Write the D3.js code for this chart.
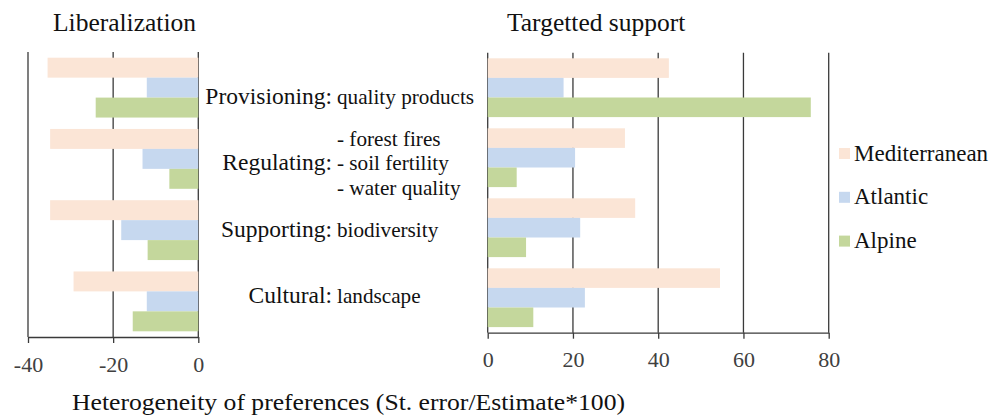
<!DOCTYPE html>
<html>
<head>
<meta charset="utf-8">
<script src="https://cdn.jsdelivr.net/npm/d3@7/dist/d3.min.js"></script>
<style>
  html, body { margin: 0; padding: 0; background: #fff; }
  svg { display: block; }
  svg text { font-family: "Liberation Serif", "Times New Roman", Times, serif; }
</style>
</head>
<body>
<svg id="chart" width="994" height="420"></svg>
<script>
// Ecosystem service categories and their detail lines
const categories = ["Provisioning", "Regulating", "Supporting", "Cultural"];
const categoryItems = [
  ["quality products"],
  ["- forest fires", "- soil fertility", "- water quality"],
  ["biodiversity"],
  ["landscape"]
];

// Regions (series)
const regions = ["Mediterranean", "Atlantic", "Alpine"];
const regionColors = ["#fbe5d6", "#c6d8ef", "#c4d79c"];

// Liberalization scenario values
const mediterraneanLib = [-35.4, -34.8, -34.8, -29.3];
const atlanticLib      = [-12.1, -13.1, -18.1, -12.1];
const alpineLib        = [-24.1, -6.8, -11.9, -15.4];

// Targetted support scenario values
const mediterraneanTarget = [42.5, 32.2, 34.6, 54.5];
const atlanticTarget      = [17.8, 20.5, 21.7, 22.8];
const alpineTarget        = [75.8, 6.8, 9.0, 10.7];

// Tick values
const libTicks = [-40, -20, 0];
const targetTicks = [0, 20, 40, 60, 80];

const svg = d3.select("#chart");
const gridColor = "#3a3a3a";

function drawPanel(opts) {
  const { series, domain, xRange, yRange, ticks, title, titleX } = opts;
  const g = svg.append("g");
  const x = d3.scaleLinear().domain(domain).range(xRange);
  const y0 = d3.scaleBand().domain(categories).range(yRange)
    .paddingInner(0.16).paddingOuter(0.08);
  const y1 = d3.scaleBand().domain(regions).range([0, y0.bandwidth()]);

  // vertical gridlines
  g.selectAll("line.grid").data(ticks).join("line")
    .attr("class", "grid")
    .attr("x1", d => x(d)).attr("x2", d => x(d))
    .attr("y1", yRange[0]).attr("y2", yRange[1])
    .attr("stroke", gridColor).attr("stroke-width", 1.3);

  // bars
  const rows = categories.map((c, i) => ({
    cat: c,
    vals: regions.map((r, j) => ({ region: r, value: series[j][i], color: regionColors[j] }))
  }));
  const grp = g.selectAll("g.cat").data(rows).join("g")
    .attr("transform", d => `translate(0,${y0(d.cat)})`);
  grp.selectAll("rect").data(d => d.vals).join("rect")
    .attr("x", d => x(Math.min(0, d.value)))
    .attr("width", d => Math.abs(x(d.value) - x(0)))
    .attr("y", d => y1(d.region))
    .attr("height", y1.bandwidth())
    .attr("fill", d => d.color);

  // bottom axis
  const axis = d3.axisBottom(x).tickValues(ticks).tickSize(6).tickSizeOuter(0)
    .tickFormat(d3.format("d"));
  const ag = g.append("g").attr("transform", `translate(0,${yRange[1]})`).call(axis);
  ag.attr("font-family", null).attr("font-size", null);
  ag.select(".domain").attr("stroke", gridColor).attr("stroke-width", 1.3);
  ag.selectAll(".tick line").attr("stroke", gridColor).attr("stroke-width", 1.3);
  ag.selectAll(".tick text")
    .attr("y", 34.5)
    .attr("dy", 0)
    .attr("font-size", 22)
    .attr("fill", "#404040")
    .text(d => d < 0 ? "-" + Math.abs(d) : d);

  // panel title
  svg.append("text").attr("x", titleX).attr("y", 31)
    .attr("font-size", 25.5).attr("fill", "#111").text(title);
}

drawPanel({
  series: [mediterraneanLib, atlanticLib, alpineLib],
  domain: [-40, 0], xRange: [28, 198.3], yRange: [52, 337],
  ticks: libTicks, title: "Liberalization", titleX: 53
});

drawPanel({
  series: [mediterraneanTarget, atlanticTarget, alpineTarget],
  domain: [0, 80], xRange: [487.7, 828.7], yRange: [52.7, 332.7],
  ticks: targetTicks, title: "Targetted support", titleX: 507
});

// category labels between the panels
const labelY = d3.scaleLinear().domain([0, categories.length - 1]).range([104, 303.3]);
const lineGap = 24.5;
const labels = svg.append("g").attr("fill", "#111");
categories.forEach((c, i) => {
  const base = labelY(i);
  labels.append("text").attr("x", 332).attr("y", base)
    .attr("font-size", 23.5)
    .attr("text-anchor", "end").text(c + ":");
  const items = categoryItems[i];
  const mid = (items.length - 1) / 2;
  items.forEach((t, k) => {
    labels.append("text").attr("x", 337).attr("y", base + (k - mid) * lineGap)
      .attr("font-size", 21.2)
      .text(t);
  });
});

// legend
const legend = svg.append("g");
regions.forEach((r, i) => {
  const cy = 153.5 + i * 43.8;
  legend.append("rect").attr("x", 839).attr("y", cy - 5.5)
    .attr("width", 11).attr("height", 11).attr("fill", regionColors[i]);
  legend.append("text").attr("x", 854).attr("y", cy + 7)
    .attr("font-size", 23).attr("fill", "#111").text(r);
});

// shared x axis title
svg.append("text").attr("x", 72).attr("y", 410)
  .attr("font-size", 24).attr("fill", "#111")
  .attr("textLength", 553).attr("lengthAdjust", "spacingAndGlyphs")
  .text("Heterogeneity of preferences (St. error/Estimate*100)");
</script>
</body>
</html>
